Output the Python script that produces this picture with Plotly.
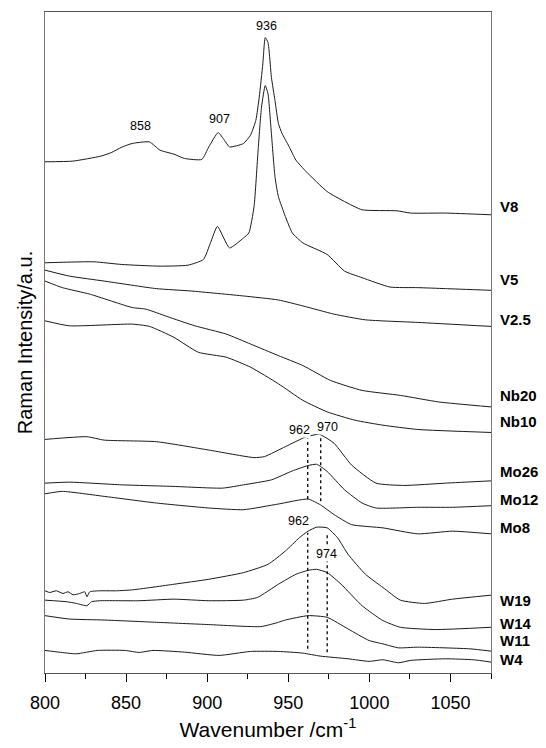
import plotly.graph_objects as go

# Raman spectra of supported oxide catalysts, stacked with vertical offsets (a.u.)
v8_wn = [800, 817.2, 834.4, 840.8, 847.3, 853.7, 864.4, 870.9, 879.5, 885.9, 896.7, 901, 906.8,
         910.6, 913.8, 922.4, 926.7, 930, 932.1, 934.3, 935.8, 937.5, 939.6, 941.8, 943.9, 946.1,
         950.4, 954.7, 961.1, 974, 984.7, 995.5, 1017, 1025.5, 1047, 1075]
v8_int = [514.3, 515, 520, 523.5, 529, 532.7, 534.3, 526, 522, 517.7, 516.7, 529.3, 543.7,
          536, 529.3, 532.7, 541, 556, 579.3, 612.7, 639.3, 634.3, 599.3, 576, 553, 543,
          530, 516, 504.3, 484.3, 474.3, 466, 465, 462.7, 462.7, 461]

v5_wn = [800, 830.1, 847.3, 870.9, 888.1, 897.7, 902, 906.3, 913.8, 922.4, 925.7, 928.9, 931.4,
         933.5, 935.8, 937.5, 939.6, 941.8, 943.9, 948.2, 952.5, 959, 974, 984.7, 995.5, 1012.7,
         1029.8, 1047, 1075]
v5_int = [412.7, 413.7, 411, 409.3, 410.3, 416, 432.7, 449.3, 427.7, 437.7, 442.7, 469.3, 526,
          569.3, 591, 582.7, 542.7, 499.3, 479.3, 459.3, 442.7, 432.7, 421, 404.3, 397.7, 388.3,
          387.7, 386.7, 385]

v25_wn = [800, 815, 836.5, 868.7, 890.2, 922.4, 943.9, 959, 978.3, 997.6, 1029.8, 1075]
v25_int = [405.3, 399.3, 394.3, 386.7, 384.3, 379.3, 375.3, 369.3, 361, 355.3, 352.7, 348.7]

nb20_wn = [800, 810.7, 827.9, 853.7, 862.3, 875.2, 892.4, 911.7, 926.7, 943.9, 959, 976.1,
           995.5, 1019.1, 1042.7, 1075]
nb20_int = [394.3, 387.7, 381, 367.7, 366, 358.7, 349.3, 341, 331, 319.3, 309.3, 294.3,
            284.3, 279.3, 272.7, 267.7]

nb10_wn = [800, 815, 853.7, 864.4, 879.5, 894.5, 911.7, 926.7, 943.9, 959, 974, 991.2,
           1008.4, 1029.8, 1075]
nb10_int = [354.3, 349.3, 351, 348.7, 337.7, 322.7, 317.7, 307.7, 291, 274.3, 262.7, 254.3,
            249.3, 245, 242]

mo26_wn = [800, 825.8, 836.5, 868.7, 901, 928.9, 935.3, 948.2, 961.1, 969.3, 978.3, 989,
           1004.1, 1021.2, 1047, 1075]
mo26_int = [235, 237.7, 234.3, 232.7, 224.3, 216.7, 217.7, 227.7, 237.7, 240, 231, 209.3,
            191, 188.7, 191, 193.3]

mo12_wn = [800, 815, 847.3, 879.5, 909.5, 922.4, 939.6, 952.5, 962.2, 967.5, 974, 984.7,
           995.5, 1004.1, 1029.8, 1051.3, 1075]
mo12_int = [191, 192, 189.3, 187.7, 186, 189.3, 194.3, 203.3, 208.7, 210, 202.7, 184.3,
            171, 166, 166.7, 166.7, 168.3]

mo8_wn = [800, 810.7, 836.5, 868.7, 901, 922.4, 943.9, 962.2, 969.7, 978.3, 989, 1008.4,
          1029.8, 1051.3, 1075]
mo8_int = [180.3, 182.7, 177.7, 171, 166, 164.3, 170, 175, 169.3, 159.3, 149.3, 146,
           140, 142.7, 140]

w19_wn = [800, 802.9, 807, 811.1, 814.2, 817.3, 821.4, 824.5, 825.9, 827.6, 833.8, 844.1,
          854.3, 879.5, 901, 922.4, 937.5, 948.2, 956.8, 962.2, 967.5, 974, 980.4, 986.9,
          997.6, 1008.4, 1019.1, 1034.1, 1051.3, 1075]
w19_int = [82.7, 81, 82.7, 80, 81.7, 78.7, 80, 81.7, 76.7, 81.7, 82.7, 82.7,
           83.7, 89.3, 94.3, 101, 109.3, 122.7, 136, 142.7, 146.7, 146, 136, 119.3,
           99.3, 86, 73.3, 70, 74.3, 78.3]

w14_wn = [800, 813.2, 819.4, 825.9, 828.6, 833.8, 858, 879.5, 901, 922.4, 931, 943.9, 954.7,
          962.2, 967.5, 974, 982.6, 995.5, 1008.4, 1019.1, 1040.6, 1075]
w14_int = [73.3, 71.7, 70, 67.7, 71.7, 72.7, 72.7, 74.3, 72.7, 73.3, 76, 89.3, 99.3,
           103.3, 104.3, 101, 89.3, 67.7, 52.7, 46, 43.7, 46]

w11_wn = [800, 815, 836.5, 868.7, 901, 933.2, 943.9, 948.2, 962.2, 974, 986.9, 999.8,
          1008.4, 1018, 1029.8, 1062.1, 1075]
w11_int = [57.7, 54.3, 53.3, 51, 48.7, 46.7, 51, 53.3, 57.7, 56, 44.3, 32.7,
           29.3, 25.3, 26, 24.3, 22]

w4_wn = [800, 808.6, 819.3, 832.2, 849.4, 858, 866.6, 885.9, 907.4, 926.7, 943.9, 959,
         969.7, 986.9, 999.8, 1008.4, 1018, 1025.5, 1047, 1064.2, 1075]
w4_int = [22.7, 21, 19.3, 22.7, 22.7, 20.7, 22.7, 21, 17.7, 21.7, 21.7, 20,
          17, 14.3, 11.7, 13.3, 10.3, 12.7, 14.3, 13.3, 11]

sample_names = ["V8", "V5", "V2.5", "Nb20", "Nb10", "Mo26", "Mo12", "Mo8",
                "W19", "W14", "W11", "W4"]
label_levels = [469, 396, 356, 279.3, 253.3, 202.7, 174.3, 146, 72.7, 50, 32.7, 13.3]

# band positions (cm-1) and where their numbers sit
band_text = ["858", "907", "936", "962", "970", "962", "974"]
band_text_wn = [859, 907.8, 936.4, 957.2, 973.9, 956.2, 973.7]
band_text_int = [550, 557.7, 651, 244.3, 247.7, 152.7, 120]

# dotted guide lines: wavenumber, top and bottom intensity
guide_wn = [962, 970, 962, 974]
guide_top = [236, 239.3, 141, 139.3]
guide_bottom = [175, 172.7, 24.3, 21]

spectra = [(v8_wn, v8_int), (v5_wn, v5_int), (v25_wn, v25_int), (nb20_wn, nb20_int),
           (nb10_wn, nb10_int), (mo26_wn, mo26_int), (mo12_wn, mo12_int), (mo8_wn, mo8_int),
           (w19_wn, w19_int), (w14_wn, w14_int), (w11_wn, w11_int), (w4_wn, w4_int)]

FONT = "Arial, Liberation Sans, sans-serif"

fig = go.Figure()
for name, (wn, inten) in zip(sample_names, spectra):
    fig.add_trace(go.Scatter(x=wn, y=inten, mode="lines", name=name,
                             line=dict(color="#1a1a1a", width=1, shape="spline", smoothing=0.5),
                             showlegend=False, hoverinfo="skip"))

for wn, top, bot in zip(guide_wn, guide_top, guide_bottom):
    fig.add_trace(go.Scatter(x=[wn, wn], y=[bot, top], mode="lines",
                             line=dict(color="black", width=1.3, dash="dot"),
                             showlegend=False, hoverinfo="skip"))

for name, lvl in zip(sample_names, label_levels):
    fig.add_annotation(x=1, xref="paper", y=lvl, yref="y", text=f"<b>{name}</b>",
                       xanchor="left", yanchor="middle", xshift=7, showarrow=False,
                       font=dict(family=FONT, size=15, color="black"))

for txt, wn, lvl in zip(band_text, band_text_wn, band_text_int):
    fig.add_annotation(x=wn, y=lvl, text=txt, showarrow=False, xanchor="center",
                       yanchor="middle", bgcolor="white", borderpad=0,
                       font=dict(family=FONT, size=12.5, color="black"))

fig.update_layout(
    width=546, height=748,
    margin=dict(l=45, r=55, t=11, b=72),
    paper_bgcolor="white", plot_bgcolor="white",
    font=dict(family=FONT, color="black"),
    xaxis=dict(range=[800, 1075], tickvals=[800, 850, 900, 950, 1000, 1050],
               ticks="outside", ticklen=8, tickwidth=1, tickcolor="black",
               minor=dict(dtick=25, tick0=800, ticks="outside", ticklen=5, tickcolor="black"),
               showline=True, linecolor="#555", linewidth=1, mirror=True,
               showgrid=False, zeroline=False, ticklabelstandoff=5,
               tickfont=dict(family=FONT, size=18),
               title=dict(text="Wavenumber /cm<sup>-1</sup>", font=dict(family=FONT, size=21),
                          standoff=10)),
    yaxis=dict(range=[0, 665], showticklabels=False, ticks="",
               showline=True, linecolor="#777", linewidth=1, mirror=True,
               showgrid=False, zeroline=False,
               title=dict(text="Raman Intensity/a.u.", font=dict(family=FONT, size=20),
                          standoff=6)),
)

fig.write_html("out.html")
